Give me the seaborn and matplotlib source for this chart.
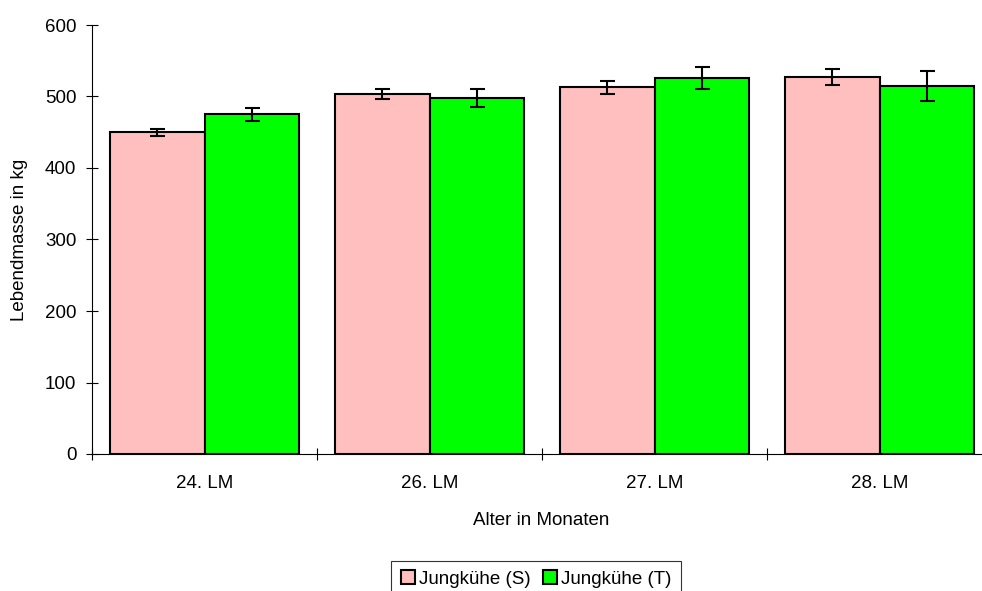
import matplotlib
matplotlib.use('Agg')
import matplotlib.pyplot as plt
import seaborn as sns
import pandas as pd

# values
alter = ['24. LM', '26. LM', '27. LM', '28. LM']
gruppen = ['Jungkühe (S)', 'Jungkühe (T)']
masse_s = [450, 504, 513, 527]
masse_t = [475, 498, 526, 515]
fehler_s = [5, 7, 9, 11]
fehler_t = [9, 12, 15, 21]

farben = {'Jungkühe (S)': '#ffbfbf', 'Jungkühe (T)': '#00ff00'}

df = pd.DataFrame({
    'Alter': alter * 2,
    'Gruppe': [gruppen[0]] * 4 + [gruppen[1]] * 4,
    'Masse': masse_s + masse_t,
    'Fehler': fehler_s + fehler_t,
})

sns.set_style('white')
plt.rcParams['font.family'] = ['Liberation Sans', 'DejaVu Sans']
plt.rcParams['font.size'] = 13.5
# plain black text like the original office chart
plt.rcParams['text.color'] = 'black'
plt.rcParams['axes.labelcolor'] = 'black'
plt.rcParams['xtick.color'] = 'black'
plt.rcParams['ytick.color'] = 'black'

fig = plt.figure(figsize=(9.82, 5.91), dpi=100)
ax = fig.add_axes([92 / 982, 137 / 591, 900 / 982, 429 / 591])

sns.barplot(data=df, x='Alter', y='Masse', hue='Gruppe', order=alter,
            hue_order=gruppen, palette=farben, width=0.837, errorbar=None,
            edgecolor='black', linewidth=1.5, saturation=1, ax=ax)

# error bars on top of each bar, matched via the patch centres
for patch, (_, row) in zip(ax.patches, df.iterrows()):
    cx = patch.get_x() + patch.get_width() / 2
    ax.errorbar(cx, patch.get_height(), yerr=row['Fehler'], fmt='none',
                ecolor='black', elinewidth=1.5, capsize=5.4, capthick=1.5)

ax.set_xlim(-0.5, 3.5)
ax.set_ylim(0, 600)
ax.set_yticks(range(0, 601, 100))
ax.set_xticks([i - 0.5 for i in range(5)], minor=True)
ax.set_xticks(range(4))
ax.set_xticklabels(alter)
ax.tick_params(axis='x', which='major', length=0, pad=15, labelcolor='black')
ax.tick_params(axis='x', which='minor', length=8.5, width=0.8, color='black',
               direction='inout', bottom=True)
ax.tick_params(axis='y', length=8.5, width=0.8, color='black',
               direction='inout', left=True, pad=7, labelcolor='black')

for side in ['top', 'right']:
    ax.spines[side].set_visible(False)
for side in ['left', 'bottom']:
    ax.spines[side].set_color('black')
    ax.spines[side].set_linewidth(0.8)

ax.set_xlabel('Alter in Monaten', color='black')
ax.set_ylabel('Lebendmasse in kg', color='black')
ax.xaxis.set_label_coords(449 / 900, -0.135)
ax.yaxis.set_label_coords(-64 / 900, 0.5)

handles, labels = ax.get_legend_handles_labels()
ax.get_legend().remove()
leg = fig.legend(handles, labels, loc='center', bbox_to_anchor=(0.546, 0.02),
                 ncol=2, frameon=True, fancybox=False, edgecolor='black',
                 handlelength=0.75, handleheight=0.75, handletextpad=0.2,
                 columnspacing=0.7, borderpad=0.5, fontsize=13.5,
                 labelcolor='black')
leg.get_frame().set_linewidth(0.8)

fig.savefig('out.png', dpi=100)
